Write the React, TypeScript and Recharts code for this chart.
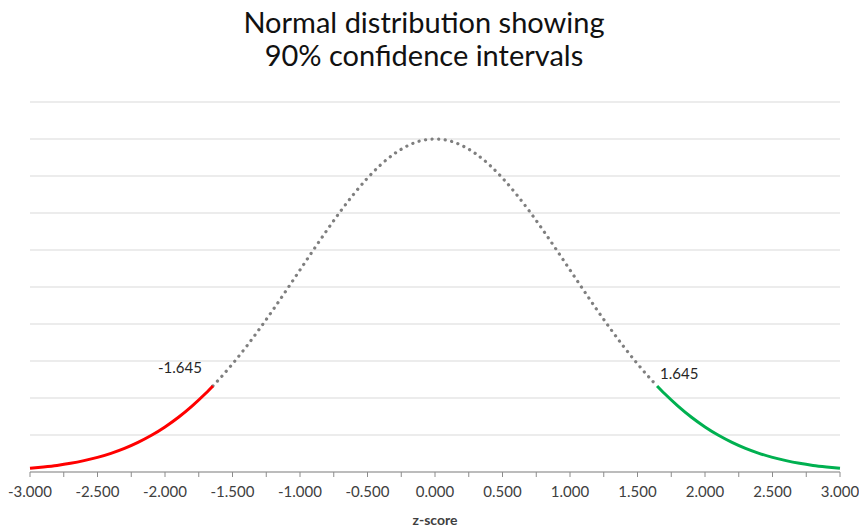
import React from 'react';
import { LineChart, Line, XAxis, YAxis, CartesianGrid } from 'recharts';

const zValues = [
  -3.0, -2.9, -2.8, -2.7, -2.6, -2.5, -2.4, -2.3, -2.2, -2.1, -2.0, -1.9, -1.8, -1.7, -1.645,
  -1.6, -1.5, -1.4, -1.3, -1.2, -1.1, -1.0, -0.9, -0.8, -0.7, -0.6, -0.5, -0.4, -0.3, -0.2, -0.1,
  0.0, 0.1, 0.2, 0.3, 0.4, 0.5, 0.6, 0.7, 0.8, 0.9, 1.0, 1.1, 1.2, 1.3, 1.4, 1.5, 1.6,
  1.645, 1.7, 1.8, 1.9, 2.0, 2.1, 2.2, 2.3, 2.4, 2.5, 2.6, 2.7, 2.8, 2.9, 3.0,
];

const densityValues = [
  0.0044, 0.006, 0.0079, 0.0104, 0.0136, 0.0175, 0.0224, 0.0283, 0.0355, 0.044, 0.054, 0.0656, 0.079, 0.094, 0.1031,
  0.1109, 0.1295, 0.1497, 0.1714, 0.1942, 0.2179, 0.242, 0.2661, 0.2897, 0.3123, 0.3332, 0.3521, 0.3683, 0.3814, 0.391, 0.397,
  0.3989, 0.397, 0.391, 0.3814, 0.3683, 0.3521, 0.3332, 0.3123, 0.2897, 0.2661, 0.242, 0.2179, 0.1942, 0.1714, 0.1497, 0.1295, 0.1109,
  0.1031, 0.094, 0.079, 0.0656, 0.054, 0.044, 0.0355, 0.0283, 0.0224, 0.0175, 0.0136, 0.0104, 0.0079, 0.006, 0.0044,
];

const lowerCut = -1.645;
const upperCut = 1.645;
const cutLabels = ['-1.645', '1.645'];

const xTicks = [
  -3, -2.75, -2.5, -2.25, -2, -1.75, -1.5, -1.25, -1, -0.75, -0.5, -0.25, 0,
  0.25, 0.5, 0.75, 1, 1.25, 1.5, 1.75, 2, 2.25, 2.5, 2.75, 3,
];
const xTickLabels = [
  '-3.000', '', '-2.500', '', '-2.000', '', '-1.500', '', '-1.000', '', '-0.500', '', '0.000',
  '', '0.500', '', '1.000', '', '1.500', '', '2.000', '', '2.500', '', '3.000',
];

const yTicks = [0, 0.04432, 0.08864, 0.13296, 0.17728, 0.2216, 0.26592, 0.31024, 0.35456, 0.39888, 0.4432];

const titleLines = ['Normal distribution showing', '90% confidence intervals'];
const xAxisTitle = 'z-score';

const data = zValues.map((z, i) => ({
  z,
  left: z <= lowerCut + 1e-9 ? densityValues[i] : null,
  mid: z >= lowerCut - 1e-9 && z <= upperCut + 1e-9 ? densityValues[i] : null,
  right: z >= upperCut - 1e-9 ? densityValues[i] : null,
}));

const FONT = 'Lato, "Open Sans", sans-serif';

const makeCutLabel = (which: 'left' | 'right') => (props: any) => {
  const { x, y, index } = props;
  const z = data[index]?.z;
  if (which === 'left' && Math.abs(z - lowerCut) < 1e-9) {
    return (
      <text x={x - 11} y={y - 13} textAnchor="end" fontSize={15} fill="#262626" fontFamily={FONT}>
        {cutLabels[0]}
      </text>
    );
  }
  if (which === 'right' && Math.abs(z - upperCut) < 1e-9) {
    return (
      <text x={x + 3} y={y - 7} textAnchor="start" fontSize={15} fill="#262626" fontFamily={FONT}>
        {cutLabels[1]}
      </text>
    );
  }
  return null;
};

export default function App() {
  return (
    <div style={{ position: 'absolute', left: 0, top: 0, width: 859, height: 527, background: '#fff', fontFamily: FONT }}>
      <div
        style={{
          position: 'absolute',
          left: 0,
          top: 5,
          width: 848,
          textAlign: 'center',
          fontSize: 29,
          lineHeight: '33px',
          color: '#111',
          fontFamily: FONT,
        }}
      >
        {titleLines.map((t) => (
          <div key={t}>{t}</div>
        ))}
      </div>
      <LineChart width={859} height={527} data={data} margin={{ top: 102, right: 19, left: 30, bottom: 0 }}>
        <CartesianGrid vertical={false} stroke="#d9d9d9" strokeWidth={1} />
        <YAxis hide type="number" domain={[0, 0.4432]} ticks={yTicks} />
        <XAxis
          dataKey="z"
          type="number"
          domain={[-3, 3]}
          ticks={xTicks}
          interval={0}
          height={55}
          stroke="#8c8c8c"
          tickSize={5}
          tickMargin={9}
          tickLine={{ stroke: '#8c8c8c' }}
          tick={{ fontSize: 15, fill: '#404040', fontFamily: FONT }}
          tickFormatter={(v: number) => xTickLabels[xTicks.indexOf(v)] ?? ''}
          label={{ value: xAxisTitle, position: 'insideBottom', offset: 2, fontSize: 14, fontWeight: 'bold', fill: '#404040', fontFamily: FONT }}
        />
        <Line
          dataKey="mid"
          type="monotone"
          stroke="#7f7f7f"
          strokeWidth={3.2}
          strokeLinecap="round"
          strokeDasharray="0.1 6.5"
          dot={false}
          connectNulls={false}
          isAnimationActive={false}
        />
        <Line
          dataKey="left"
          type="monotone"
          stroke="#ff0000"
          strokeWidth={3}
          dot={false}
          label={makeCutLabel('left')}
          isAnimationActive={false}
        />
        <Line
          dataKey="right"
          type="monotone"
          stroke="#00b050"
          strokeWidth={3}
          dot={false}
          label={makeCutLabel('right')}
          isAnimationActive={false}
        />
      </LineChart>
    </div>
  );
}
